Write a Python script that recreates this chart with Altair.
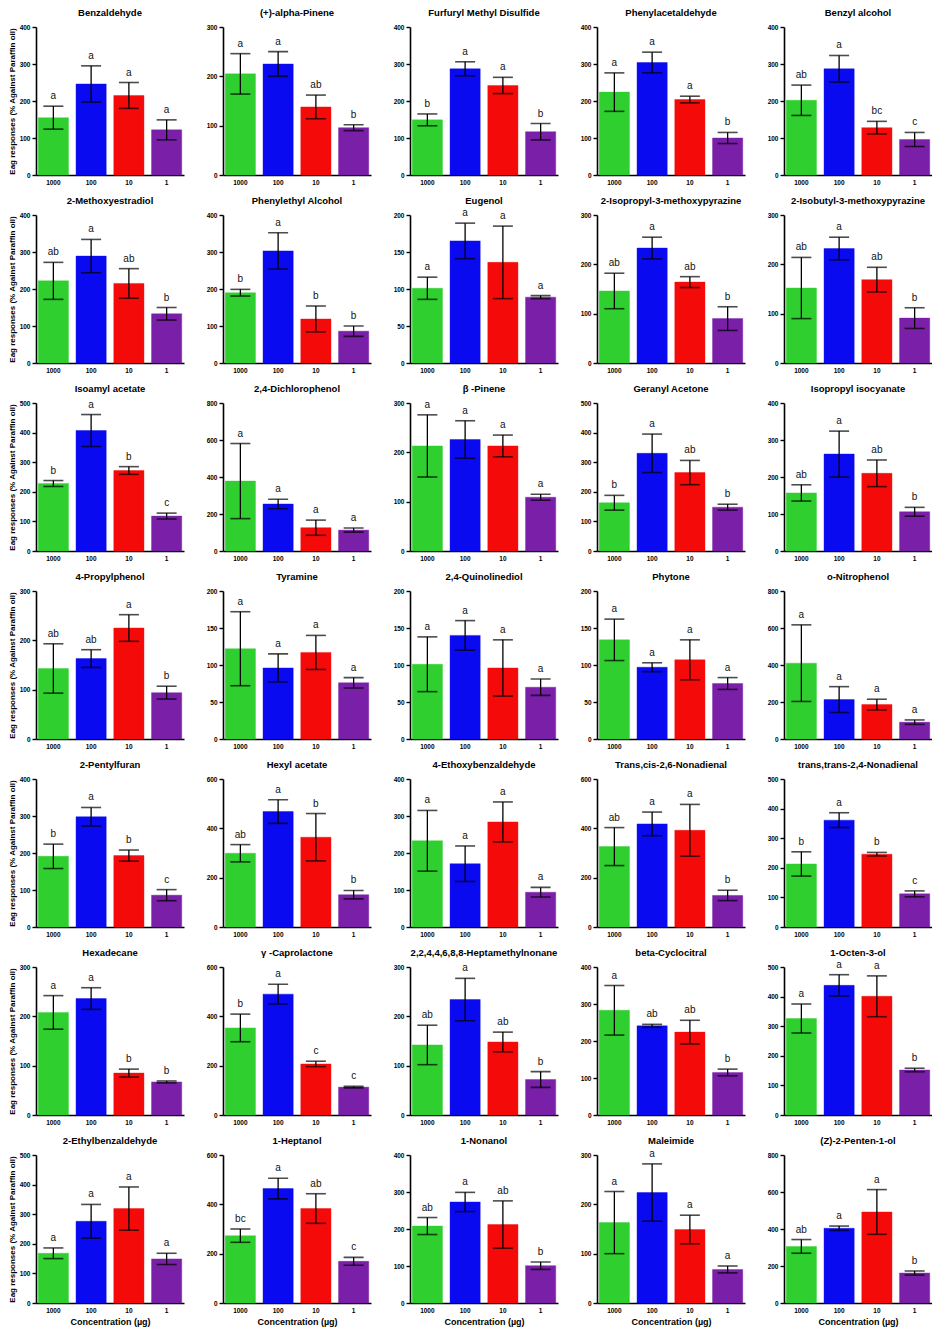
import altair as alt
import pandas as pd

concentrations = ["1000", "100", "10", "1"]
bar_colors = ["#2ecf2e", "#0a0af0", "#f50a0a", "#7a1fa8"]

compounds = [
    "Benzaldehyde", "(+)-alpha-Pinene", "Furfuryl Methyl Disulfide", "Phenylacetaldehyde", "Benzyl alcohol",
    "2-Methoxyestradiol", "Phenylethyl Alcohol", "Eugenol", "2-Isopropyl-3-methoxypyrazine", "2-Isobutyl-3-methoxypyrazine",
    "Isoamyl acetate", "2,4-Dichlorophenol", "β -Pinene", "Geranyl Acetone", "Isopropyl isocyanate",
    "4-Propylphenol", "Tyramine", "2,4-Quinolinediol", "Phytone", "o-Nitrophenol",
    "2-Pentylfuran", "Hexyl acetate", "4-Ethoxybenzaldehyde", "Trans,cis-2,6-Nonadienal", "trans,trans-2,4-Nonadienal",
    "Hexadecane", "γ -Caprolactone", "2,2,4,4,6,8,8-Heptamethylnonane", "beta-Cyclocitral", "1-Octen-3-ol",
    "2-Ethylbenzaldehyde", "1-Heptanol", "1-Nonanol", "Maleimide", "(Z)-2-Penten-1-ol",
]

y_max = [
    400, 300, 400, 400, 400,
    400, 400, 200, 300, 300,
    500, 800, 300, 500, 400,
    300, 200, 200, 200, 800,
    400, 600, 400, 600, 500,
    300, 600, 300, 400, 500,
    500, 600, 400, 300, 800,
]

y_step = [
    100, 100, 100, 100, 100,
    100, 100, 50, 100, 100,
    100, 200, 100, 100, 100,
    100, 50, 50, 50, 200,
    100, 200, 100, 200, 100,
    100, 200, 100, 100, 100,
    100, 200, 100, 100, 200,
]

means = [
    [155, 246, 215, 122], [205, 225, 138, 96], [149, 287, 242, 117], [224, 304, 204, 100], [202, 287, 128, 96],
    [222, 289, 215, 133], [190, 303, 119, 86], [101, 165, 136, 89], [146, 233, 164, 90], [152, 232, 169, 91],
    [228, 407, 272, 118], [378, 254, 126, 113], [213, 226, 213, 109], [163, 330, 265, 148], [157, 262, 210, 106],
    [143, 163, 225, 94], [122, 96, 117, 76], [101, 140, 96, 70], [134, 97, 107, 75], [410, 213, 186, 91],
    [191, 298, 193, 86], [299, 468, 364, 131], [233, 171, 284, 94], [326, 418, 392, 128], [213, 361, 246, 112],
    [208, 236, 85, 67], [353, 490, 207, 113], [142, 234, 148, 72], [283, 241, 224, 115], [326, 438, 401, 152],
    [168, 276, 319, 149], [273, 464, 383, 169], [208, 273, 212, 101], [163, 224, 149, 68], [306, 404, 492, 162],
]

errors = [
    [31, 49, 35, 27], [41, 25, 24, 6], [16, 19, 22, 22], [52, 28, 9, 15], [41, 36, 17, 19],
    [50, 45, 40, 17], [9, 49, 35, 14], [15, 24, 49, 2], [36, 22, 11, 24], [62, 23, 25, 21],
    [10, 54, 13, 10], [203, 26, 41, 11], [63, 38, 22, 6], [25, 65, 41, 10], [22, 62, 36, 12],
    [50, 18, 27, 13], [50, 19, 23, 7], [37, 20, 38, 11], [28, 6, 27, 8], [207, 70, 29, 12],
    [33, 25, 15, 15], [35, 48, 96, 17], [82, 48, 54, 13], [77, 48, 105, 21], [41, 25, 6, 10],
    [34, 22, 8, 2], [56, 40, 11, 3], [40, 43, 20, 16], [67, 4, 32, 9], [49, 36, 69, 6],
    [18, 57, 73, 19], [27, 42, 60, 16], [23, 26, 64, 10], [63, 58, 29, 7], [37, 12, 121, 11],
]

letters = [
    ["a", "a", "a", "a"], ["a", "a", "ab", "b"], ["b", "a", "a", "b"], ["a", "a", "a", "b"], ["ab", "a", "bc", "c"],
    ["ab", "a", "ab", "b"], ["b", "a", "b", "b"], ["a", "a", "a", "a"], ["ab", "a", "ab", "b"], ["ab", "a", "ab", "b"],
    ["b", "a", "b", "c"], ["a", "a", "a", "a"], ["a", "a", "a", "a"], ["b", "a", "ab", "b"], ["ab", "a", "ab", "b"],
    ["ab", "ab", "a", "b"], ["a", "a", "a", "a"], ["a", "a", "a", "a"], ["a", "a", "a", "a"], ["a", "a", "a", "a"],
    ["b", "a", "b", "c"], ["ab", "a", "b", "b"], ["a", "a", "a", "a"], ["ab", "a", "a", "b"], ["b", "a", "b", "c"],
    ["a", "a", "b", "b"], ["b", "a", "c", "c"], ["ab", "a", "ab", "b"], ["a", "ab", "ab", "b"], ["a", "a", "a", "b"],
    ["a", "a", "a", "a"], ["bc", "a", "ab", "c"], ["ab", "a", "ab", "b"], ["a", "a", "a", "a"], ["ab", "a", "a", "b"],
]

Y_TITLE = "Eag responses (% Against Paraffin oil)"
X_TITLE = "Concentration (µg)"
FONT = "Liberation Sans"
N_COLS = 5
PW, PH = 148, 148


def panel(i, first_col, last_row):
    df = pd.DataFrame({
        "conc": concentrations,
        "mean": means[i],
        "lo": [m - e for m, e in zip(means[i], errors[i])],
        "hi": [m + e for m, e in zip(means[i], errors[i])],
        "letter": letters[i],
    })
    yscale = alt.Scale(domain=[0, y_max[i]], nice=False, zero=True)
    yaxis = alt.Axis(
        title=Y_TITLE if first_col else None,
        values=list(range(0, y_max[i] + 1, y_step[i])),
        labelFlush=False, minExtent=18, maxExtent=18,
    )
    x = alt.X(
        "conc:N",
        scale=alt.Scale(domain=concentrations, paddingInner=0.2, paddingOuter=0.06),
        axis=alt.Axis(title=X_TITLE if last_row else None, labelAngle=0, ticks=False, labelPadding=4),
    )
    base = alt.Chart(df)
    bars = base.mark_bar(strokeWidth=0.8, strokeOpacity=0.5).encode(
        x=x,
        y=alt.Y("mean:Q", scale=yscale, axis=yaxis),
        color=alt.Color("conc:N", scale=alt.Scale(domain=concentrations, range=bar_colors), legend=None),
        stroke=alt.Stroke("conc:N", scale=alt.Scale(domain=concentrations, range=bar_colors), legend=None),
    )
    rule = base.mark_rule(color="black", strokeWidth=1.3).encode(
        x=x, y=alt.Y("lo:Q", scale=yscale, axis=yaxis), y2="hi:Q"
    )
    cap_lo = base.mark_tick(color="black", thickness=1.6, size=20).encode(
        x=x, y=alt.Y("lo:Q", scale=yscale, axis=yaxis)
    )
    cap_hi = base.mark_tick(color="black", thickness=1.6, size=20).encode(
        x=x, y=alt.Y("hi:Q", scale=yscale, axis=yaxis)
    )
    txt = base.mark_text(dy=-7, fontSize=10, font=FONT, color="#111111", baseline="alphabetic").encode(
        x=x, y=alt.Y("hi:Q", scale=yscale, axis=yaxis), text="letter:N"
    )
    head = alt.Chart(pd.DataFrame({"name": [compounds[i]]})).mark_text(
        font=FONT, fontSize=9.5, fontWeight="bold", color="black", baseline="alphabetic", align="center"
    ).encode(x=alt.value(PW / 2), y=alt.value(-11), text="name:N")
    return alt.layer(bars, rule, cap_lo, cap_hi, txt, head).properties(width=PW, height=PH)


n_rows = len(compounds) // N_COLS
panels = []
for idx in range(len(compounds)):
    r, c = divmod(idx, N_COLS)
    panels.append(panel(idx, c == 0, r == n_rows - 1))

chart = alt.concat(
    *panels, columns=N_COLS, spacing={"row": 40, "column": 39}, bounds="flush", padding=0
).configure_view(stroke=None).configure_axis(
    grid=False,
    domainColor="black",
    domainWidth=1.6,
    tickColor="black",
    tickWidth=1.4,
    tickSize=4,
    labelFont=FONT,
    labelFontSize=6.5,
    labelFontWeight="bold",
    labelColor="black",
    titleFont=FONT,
    titleFontSize=8,
    titleFontWeight="bold",
    titleColor="black",
    titlePadding=2,
).configure_axisX(
    titleFontSize=9, titlePadding=4
)

chart.save("out.html", embed_options={"renderer": "svg", "actions": False})
